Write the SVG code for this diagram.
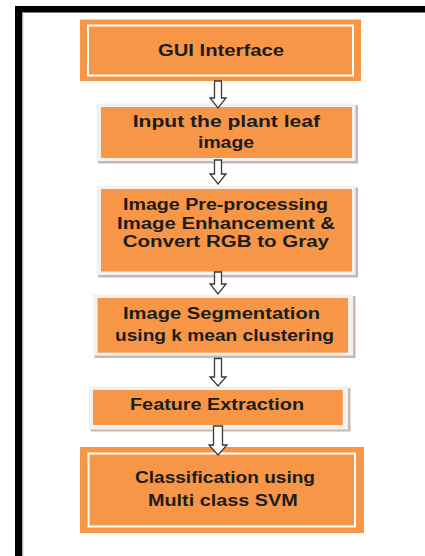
<svg xmlns="http://www.w3.org/2000/svg" width="425" height="556" viewBox="0 0 425 556">
<defs>
<style>
.lbl{font-family:"Liberation Sans",Arial,sans-serif;font-weight:bold;font-size:16px;fill:#1c1c1c}
.org{fill:#F79646}
.inner{fill:none;stroke:#ffffff;stroke-width:2}
.shadow{fill:#cbb8aa}
.halo{fill:#f1f1f1}
.arrow{fill:#ffffff;stroke:#3a3a3a;stroke-width:1.3;stroke-linejoin:miter}
</style>
</defs>
<rect x="0" y="0" width="425" height="556" fill="#ffffff"/>
<g id="frame">
<rect x="15" y="6" width="410" height="6.5" fill="#000"/>
<rect x="15" y="6" width="7.5" height="550" fill="#000"/>
<rect x="22.5" y="12.5" width="1" height="543.5" fill="#d8d8d8"/>
</g>
<g id="n1">
<rect class="org" x="80" y="19.5" width="281" height="61.5"/>
<rect class="inner" x="88" y="25.5" width="265" height="50"/>
<text class="lbl" x="158" y="56" textLength="126" lengthAdjust="spacingAndGlyphs">GUI Interface</text>
</g>
<g id="n2">
<rect class="shadow" x="98" y="105" width="260" height="58.5"/>
<rect class="halo" x="96.5" y="103.5" width="259" height="57.5"/>
<rect class="org" x="101" y="107" width="251" height="51"/>
<text class="lbl" x="132.7" y="127" textLength="187.3" lengthAdjust="spacingAndGlyphs">Input the plant leaf</text>
<text class="lbl" x="198" y="148.3" textLength="56" lengthAdjust="spacingAndGlyphs">image</text>
</g>
<g id="n3">
<rect class="shadow" x="98" y="187.5" width="260" height="90"/>
<rect class="halo" x="96.5" y="186" width="259" height="89"/>
<rect class="org" x="101" y="189" width="251" height="82.5"/>
<text class="lbl" x="123" y="210" textLength="205" lengthAdjust="spacingAndGlyphs">Image Pre-processing</text>
<text class="lbl" x="117" y="228.5" textLength="218" lengthAdjust="spacingAndGlyphs">Image Enhancement &amp;</text>
<text class="lbl" x="122.7" y="246.7" textLength="206.3" lengthAdjust="spacingAndGlyphs">Convert RGB to Gray</text>
</g>
<g id="n4">
<rect class="shadow" x="94.5" y="296" width="261" height="62"/>
<rect class="halo" x="93" y="294.5" width="260" height="61"/>
<rect class="org" x="97.7" y="298" width="250.3" height="54.7"/>
<text class="lbl" x="123" y="318.5" textLength="197" lengthAdjust="spacingAndGlyphs">Image Segmentation</text>
<text class="lbl" x="115" y="341" textLength="219" lengthAdjust="spacingAndGlyphs">using k mean clustering</text>
</g>
<g id="n5">
<rect class="shadow" x="90.5" y="388" width="260" height="43.5"/>
<rect class="halo" x="89" y="386.5" width="259" height="43"/>
<rect class="org" x="93" y="390" width="249.7" height="35"/>
<text class="lbl" x="130" y="409.7" textLength="174" lengthAdjust="spacingAndGlyphs">Feature Extraction</text>
</g>
<g id="n6">
<rect class="org" x="80" y="447" width="284" height="86"/>
<rect class="inner" x="88.5" y="453.5" width="266.5" height="73"/>
<text class="lbl" x="135" y="483" textLength="180" lengthAdjust="spacingAndGlyphs">Classification using</text>
<text class="lbl" x="148" y="506" textLength="149.7" lengthAdjust="spacingAndGlyphs">Multi class SVM</text>
</g>
<g id="connectors">
<path class="arrow" d="M214.5,81 H221.5 V98 H226 L218,108 L210,98 H214.5 Z"/>
<path class="arrow" d="M214.5,160 H221.5 V174 H226 L218,184 L210,174 H214.5 Z"/>
<path class="arrow" d="M214.5,272 H221.5 V284 H226 L218,294 L210,284 H214.5 Z"/>
<path class="arrow" d="M214.5,358.5 H221.5 V377 H226 L218,386 L210,377 H214.5 Z"/>
<path class="arrow" d="M213.5,426 H222.5 V445 H227 L218,455 L209,445 H213.5 Z"/>
</g>
</svg>
